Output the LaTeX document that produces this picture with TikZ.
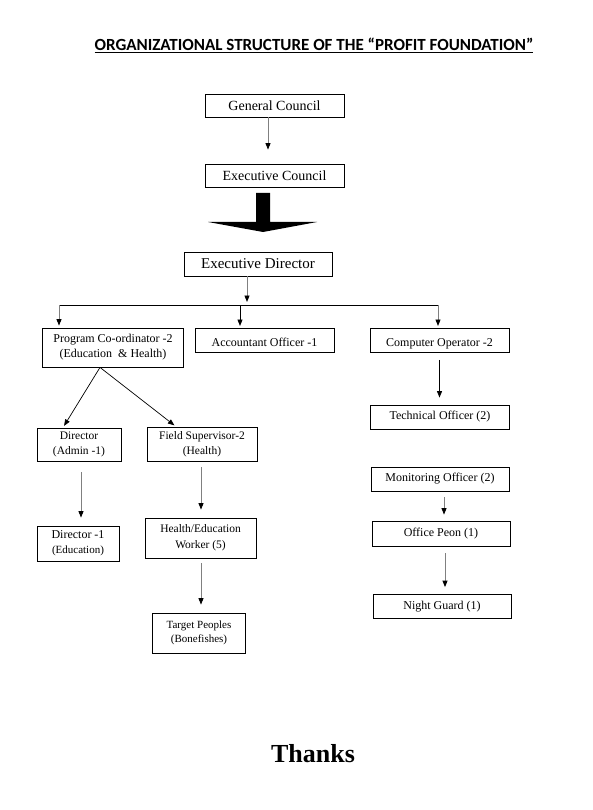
\documentclass[tikz,border=0pt]{standalone}
\usepackage{fontspec}
\setmainfont{Liberation Serif}
\newfontfamily\titlefont{Carlito}
\usetikzlibrary{arrows.meta,calc}

\tikzset{
  box/.style={draw, line width=0.8pt, inner sep=0pt, align=center,
    font=\fontsize{12}{15}\selectfont},
  conn/.style={draw=gray, line width=0.9pt,
    -{Triangle[length=6.5pt,width=5pt,color=black]}},
  link/.style={draw=black, line width=0.7pt}
}

\begin{document}
\begin{tikzpicture}[x=1pt,y=-1pt]
      \useasboundingbox (0,0) rectangle (592,810);

      % Titulo
      \node (title) at (314,45) {\titlefont\bfseries\fontsize{17}{19}\selectfont\underline{ORGANIZATIONAL STRUCTURE OF THE “PROFIT FOUNDATION”}};

      % Topo
      \node[box, minimum width=139pt, minimum height=23pt, font=\fontsize{14}{15}\selectfont] (gc) at (274.5,105.5) {General Council};
      \node[box, minimum width=139pt, minimum height=23pt, font=\fontsize{14}{15}\selectfont] (ec) at (274.5,175.5) {Executive Council};
      \node[box, minimum width=148pt, minimum height=24pt, font=\fontsize{15}{17}\selectfont] (ed) at (258,264) {Executive Director};

      \draw[conn, shorten >=14pt] ([xshift=-6.5pt]gc.south) -- ([xshift=-6.5pt]gc.south |- ec.north);

      % Seta grande
      \fill[black] (256,193) -- (270,193) -- (270,222) -- (317,222) -- (263,232)
        -- (208,222) -- (256,222) -- cycle;

      % Segundo nivel
      \node[box, minimum width=141pt, minimum height=39pt] (pc) at (113,347.5) {Program Co-ordinator -2\\(Education\ \ \& Health)};
      \node[box, minimum width=139pt, minimum height=24pt, anchor=north] (ao) at (264.5,328) {\raisebox{0pt}[12pt][0pt]{Accountant Officer -1}};
      \node[box, minimum width=139pt, minimum height=24pt, anchor=north] (co) at (439.5,328) {\raisebox{0pt}[12pt][0pt]{Computer Operator -2}};

      \coordinate (bus) at (247,305);
      \coordinate (b1) at (59,305);
      \coordinate (b2) at (240,305);
      \coordinate (b3) at (438,305);
      \draw[conn, shorten >=3pt] ([xshift=-11pt]ed.south) -- (bus);
      \draw[link] (b1) -- (b3);
      \draw[conn, shorten >=2pt] (b1) -- (b1 |- pc.north);
      \draw[conn, draw=black, shorten >=2pt] (b2) -- (b2 |- ao.north);
      \draw[conn, shorten >=2pt] (b3) -- (b3 |- co.north);

      % Ramo da esquerda
      \node[box, minimum width=84pt, minimum height=33pt, font=\fontsize{11.5}{15}\selectfont] (dir) at (79,444.5) {Director\\(Admin -1)};
      \node[box, minimum width=110pt, minimum height=34pt, font=\fontsize{11.5}{15}\selectfont] (fs) at (202,444) {Field Supervisor-2\\(Health)};
      \node[box, minimum width=82pt, minimum height=35pt] (dir1) at (78,543.5) {\fontsize{12}{14}\selectfont Director -1\\\fontsize{11}{12}\selectfont(Education)};
      \node[box, minimum width=111pt, minimum height=40pt, font=\fontsize{11.5}{16}\selectfont] (hew) at (200.5,538) {Health/Education\\Worker (5)};
      \node[box, minimum width=93pt, minimum height=40pt, font=\fontsize{11}{13.5}\selectfont] (tp) at (199,633) {Target Peoples\\(Bonefishes)};

      \coordinate (pcb) at ([xshift=-13pt]pc.south);
      \draw[link, -{Triangle[length=6.5pt,width=5pt]}, shorten >=2pt] (pcb) -- ([xshift=-16pt]dir.north);
      \draw[link, -{Triangle[length=6.5pt,width=5pt]}, shorten >=2pt] (pcb) -- ([xshift=-26pt]fs.north);
      \draw[conn, shorten <=11pt, shorten >=8pt] ([xshift=2pt]dir.south) -- ([xshift=2pt]dir.south |- dir1.north);
      \draw[conn, shorten <=6pt, shorten >=8pt] ([xshift=-1pt]fs.south) -- ([xshift=-1pt]fs.south |- hew.north);
      \draw[conn, shorten <=5pt, shorten >=8pt] ([xshift=0.5pt]hew.south) -- ([xshift=0.5pt]hew.south |- tp.north);

      % Ramo da direita
      \node[box, minimum width=139pt, minimum height=24pt] (to) at (440,417) {Technical Officer (2)};
      \node[box, minimum width=138pt, minimum height=24pt] (mo) at (440,479) {Monitoring Officer (2)};
      \node[box, minimum width=138pt, minimum height=25pt] (op) at (441,533.5) {Office Peon (1)};
      \node[box, minimum width=138pt, minimum height=24pt] (ng) at (442,606.5) {Night Guard (1)};

      \draw[conn, draw=black, shorten <=7pt, shorten >=7pt] (co.south) -- (co.south |- to.north);
      \draw[conn, shorten <=6pt, shorten >=6pt] ([xshift=4pt]mo.south) -- ([xshift=4pt]mo.south |- op.north);
      \draw[conn, shorten <=7pt, shorten >=7pt] ([xshift=4pt]op.south) -- ([xshift=4pt]op.south |- ng.north);

      % Fim
      \node[font=\bfseries\fontsize{26}{30}\selectfont] (thanks) at (313,754) {Thanks};

    \end{tikzpicture}
\end{document}
